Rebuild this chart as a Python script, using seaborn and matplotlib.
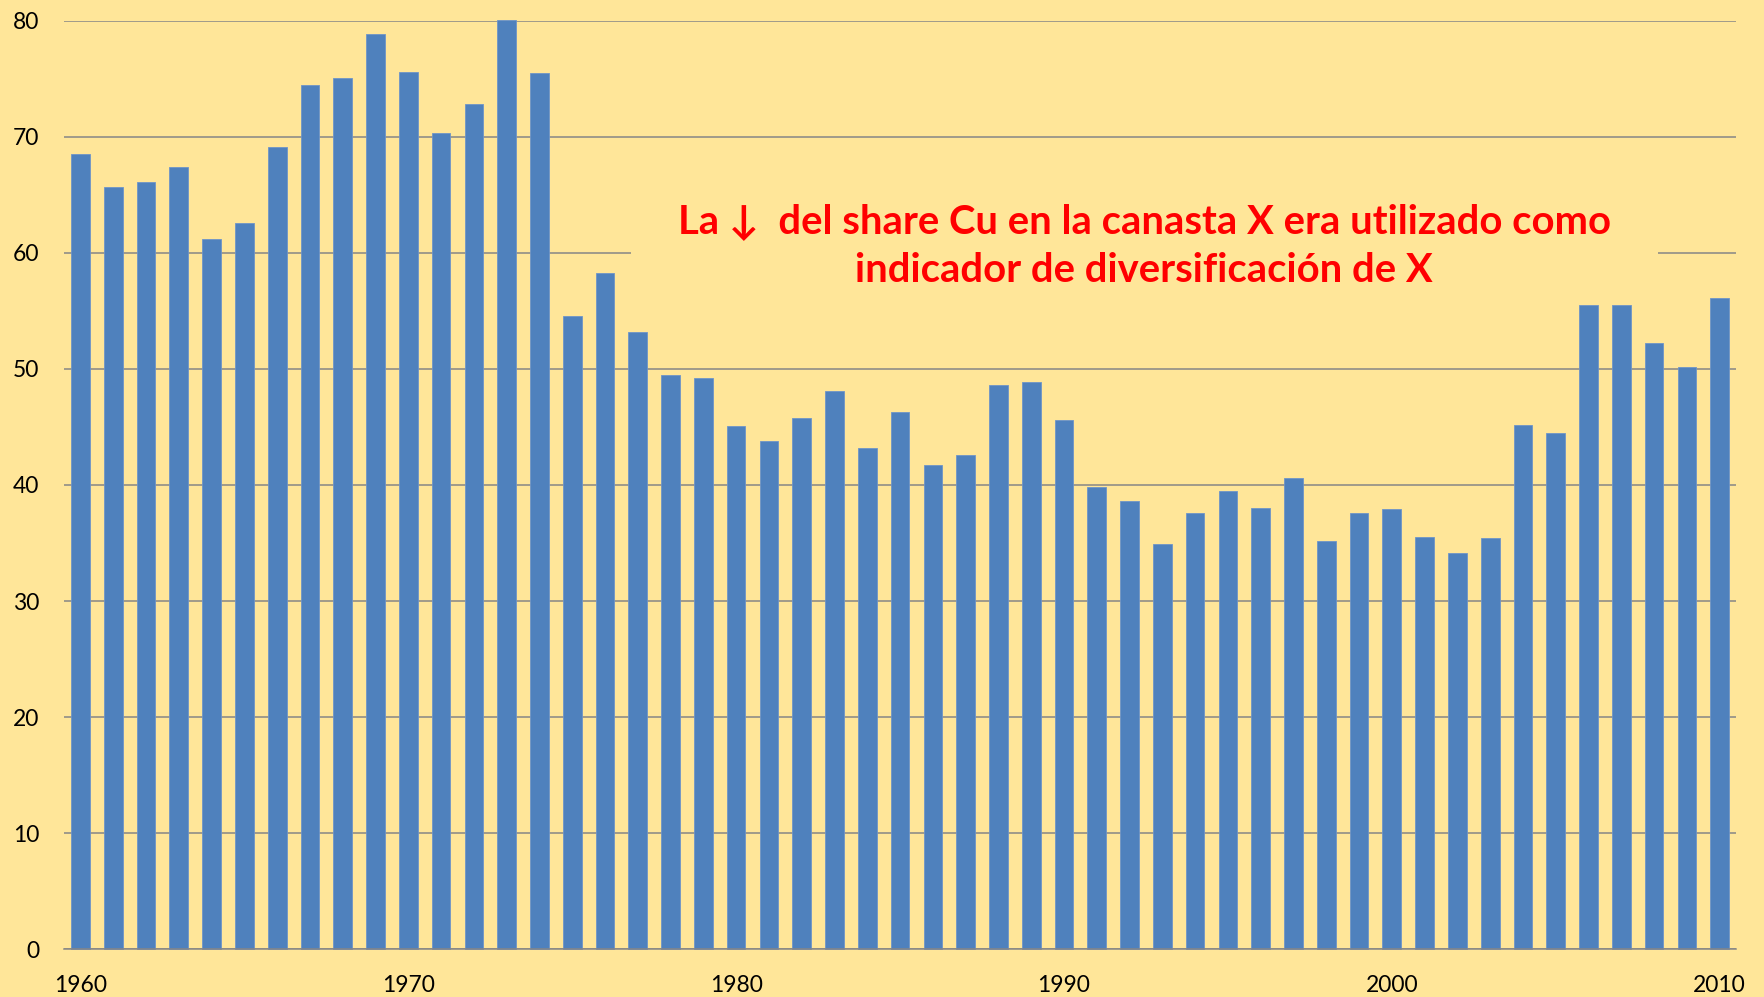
import matplotlib
matplotlib.use("Agg")
import matplotlib.pyplot as plt
import seaborn as sns

# Share del cobre en la canasta exportadora (%), 1960-2010
years = list(range(1960, 2011))
share = [68.5, 65.7, 66.1, 67.4, 61.2, 62.6, 69.1, 74.5, 75.1, 78.9,
         75.6, 70.3, 72.8, 80.1, 75.5, 54.6, 58.3, 53.2, 49.5, 49.2,
         45.1, 43.8, 45.8, 48.1, 43.2, 46.3, 41.7, 42.6, 48.6, 48.9,
         45.6, 39.8, 38.6, 34.9, 37.6, 39.5, 38.0, 40.6, 35.2, 37.6,
         37.9, 35.5, 34.1, 35.4, 45.2, 44.5, 55.5, 55.5, 52.2, 50.2,
         56.1]
year_labels = ["1960", "1970", "1980", "1990", "2000", "2010"]
note = "La \u2193  del share Cu en la canasta X era utilizado como\nindicador de diversificación de X"

bg = "#FFE699"
bar_color = "#4F81BD"
grid_color = "#868686"

sns.set_style("white")
plt.rcParams["font.family"] = ["Lato", "DejaVu Sans"]

fig = plt.figure(figsize=(17.65, 9.97), dpi=100, facecolor=bg)
ax = fig.add_axes([0.0363, 0.0481, 0.9473, 0.9309])
ax.set_facecolor(bg)

sns.barplot(x=years, y=share, color=bar_color, saturation=1, width=0.57,
            ax=ax, zorder=2, clip_on=False, edgecolor="#6F95C8", linewidth=0.6)

ax.set_ylim(0, 80)
ax.set_xlim(-0.5, len(years) - 0.5)
ax.set_yticks(range(0, 81, 10))
ax.set_xticks([years.index(int(y)) for y in year_labels])
ax.set_xticklabels(year_labels)
ax.tick_params(axis="both", length=0, labelsize=16.5, colors="black")
ax.tick_params(axis="y", pad=18)
ax.tick_params(axis="x", pad=19)

ax.yaxis.grid(True, color=grid_color, linewidth=1.1)
ax.set_axisbelow(True)
for side in ["left", "right", "top"]:
    ax.spines[side].set_visible(False)
ax.spines["bottom"].set_color(grid_color)
ax.spines["bottom"].set_linewidth(1.1)

ax.text(32.45, 60.6, note, ha="center", va="center", color="red",
        fontsize=28.8, fontweight="bold", linespacing=1.42, zorder=1.5,
        bbox=dict(facecolor=bg, edgecolor="none", pad=34))

plt.savefig("out.png", dpi=100, facecolor=bg)
plt.close()
